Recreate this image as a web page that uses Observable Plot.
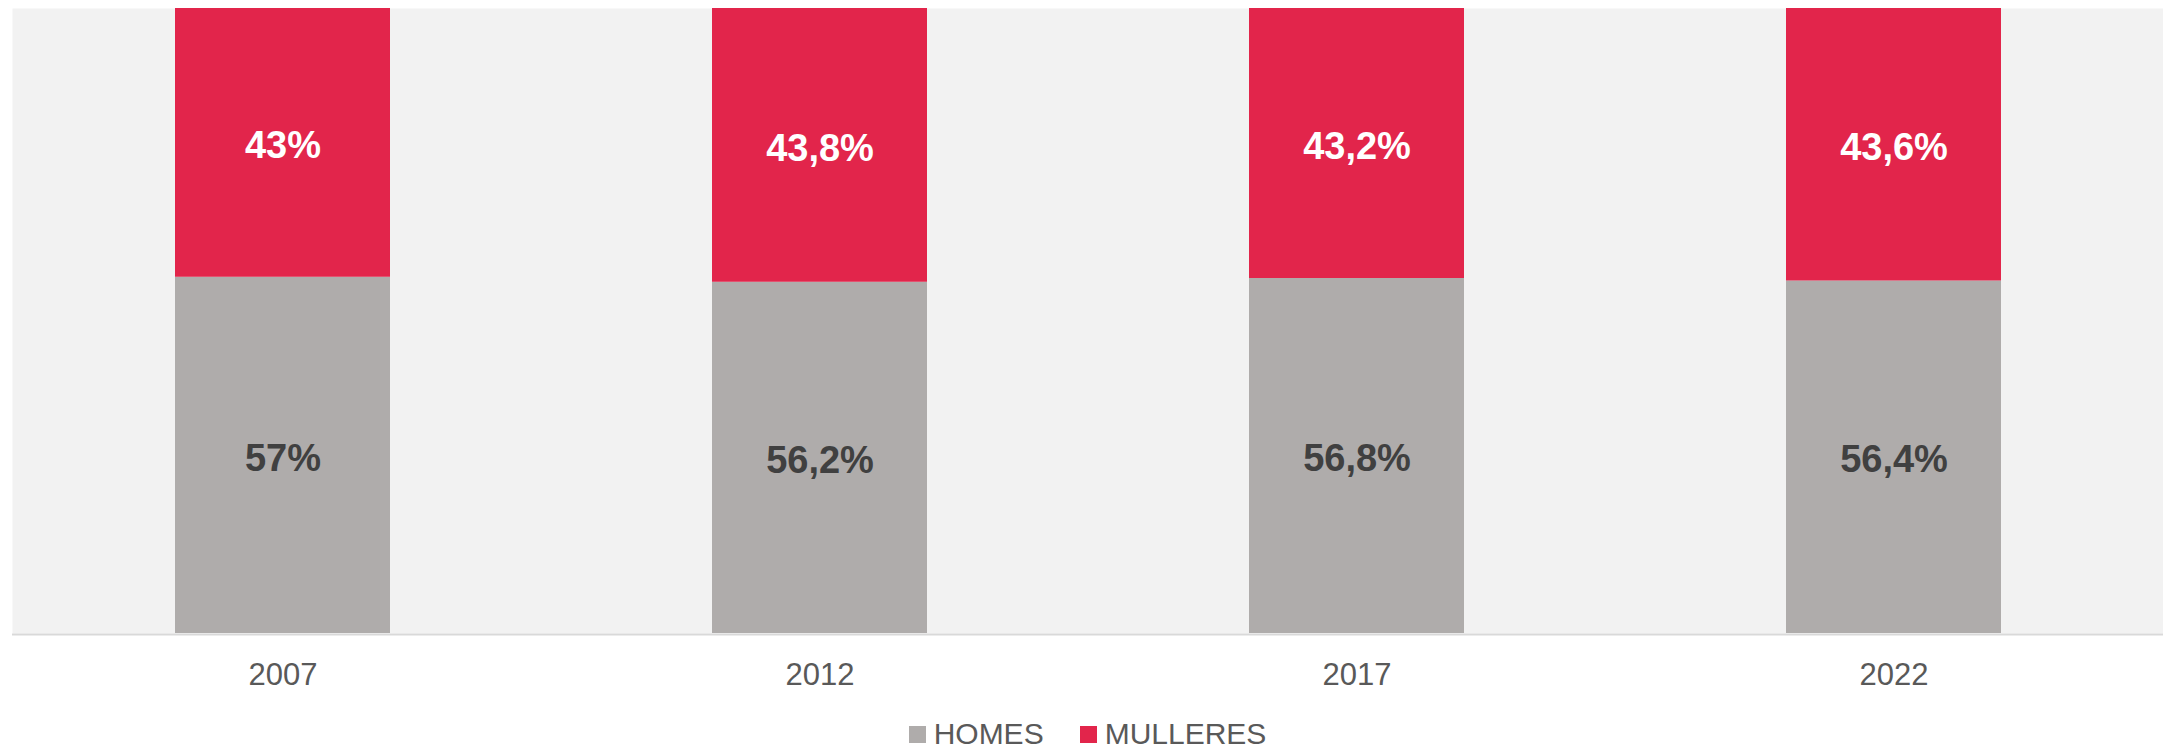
<!DOCTYPE html>
<html>
<head>
<meta charset="utf-8">
<script src="https://cdn.jsdelivr.net/npm/d3@7"></script>
<script src="https://cdn.jsdelivr.net/npm/@observablehq/plot@0.6"></script>
<style>
  html, body { margin: 0; padding: 0; background: #ffffff; }
  body { width: 2163px; font-family: "Liberation Sans", Arial, Helvetica, sans-serif; }
  #legend { display: flex; justify-content: center; align-items: center; margin-top: 17px; height: 34px; line-height: 34px; font-size: 30px; color: #595959; padding-left: 12px; }
  .sw { display: inline-block; width: 17px; height: 17px; margin-right: 8px; }
  .item { display: flex; align-items: center; margin: 0 18px; }
</style>
</head>
<body>
<div id="chart"></div>
<div id="legend"></div>
<script>
const years = ["2007", "2012", "2017", "2022"];
const homes = [57, 56.2, 56.8, 56.4];
const mulleres = [43, 43.8, 43.2, 43.6];
const seriesNames = ["HOMES", "MULLERES"];
const seriesColors = ["#afacab", "#e2254b"];
const labelColors = ["#404040", "#ffffff"];

const rows = [];
years.forEach((y, i) => {
  rows.push({year: y, sex: seriesNames[0], value: homes[i]});
  rows.push({year: y, sex: seriesNames[1], value: mulleres[i]});
});
const fmt = v => String(v).replace(".", ",") + "%";

const chart = Plot.plot({
  width: 2163,
  height: 700,
  marginLeft: 12,
  marginRight: 0,
  marginTop: 8,
  marginBottom: 67,
  style: {fontFamily: '"Liberation Sans", Arial, Helvetica, sans-serif', color: "#595959", background: "#ffffff"},
  x: {domain: years, paddingInner: 0.6, paddingOuter: 0.3, label: null},
  y: {domain: [0, 100], axis: null},
  color: {domain: seriesNames, range: seriesColors},
  marks: [
    Plot.frame({fill: "#f2f2f2", stroke: null}),
    Plot.barY(rows, {x: "year", y: "value", fill: "sex", order: seriesNames}),
    Plot.ruleY([0], {stroke: "#d9d9d9", strokeWidth: 2, dy: 1}),
    Plot.text(rows, Plot.stackY({
      x: "year", y: "value", z: "sex", order: seriesNames,
      text: d => fmt(d.value),
      fill: d => labelColors[seriesNames.indexOf(d.sex)],
      fontSize: 38, fontWeight: "bold", dy: 3
    })),
    Plot.axisX({tickSize: 0, tickPadding: 29, fontSize: 31, fill: "#595959"})
  ]
});
document.getElementById("chart").appendChild(chart);

const legend = document.getElementById("legend");
seriesNames.forEach((n, i) => {
  const item = document.createElement("span");
  item.className = "item";
  const sw = document.createElement("span");
  sw.className = "sw";
  sw.style.background = seriesColors[i];
  item.appendChild(sw);
  item.appendChild(document.createTextNode(n));
  legend.appendChild(item);
});
</script>
</body>
</html>
